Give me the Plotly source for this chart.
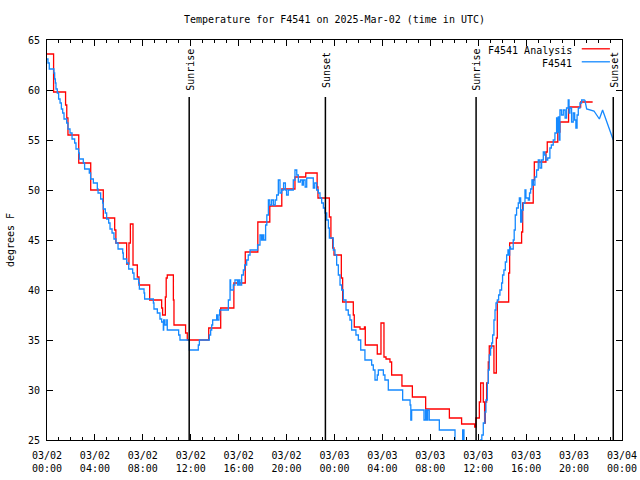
import plotly.graph_objects as go
import pandas as pd

# ---------------- data (hours after 2025-03-02 00:00 UTC, deg F) ----------------
red_hours = [0.0, 0.55, 1.55, 1.65, 1.75, 2.65, 3.65, 4.7, 5.65, 5.75, 6.65, 6.84, 6.96, 7.18,
             7.54, 7.68, 8.57, 9.57, 9.65, 9.88, 9.95, 10.04, 10.55, 10.6, 11.57, 11.71,
             13.5, 14.5, 15.6, 16.55, 17.6, 18.6, 19.6, 20.7, 21.6, 22.55, 22.62, 23.57,
             23.7, 23.85, 23.96, 24.57, 24.68, 25.57, 25.65, 26.13, 26.5, 26.57, 27.57,
             27.88, 28.13, 28.3, 28.63, 28.77, 29.63, 30.5, 31.61, 33.59, 34.61, 35.7,
             35.8, 36.09, 36.2, 36.42, 36.53, 36.59, 36.7, 36.84, 36.92, 37.31, 37.51,
             37.59, 38.54, 38.62, 39.62, 39.71, 40.59, 40.68, 41.65, 41.76, 42.64, 42.82,
             43.54, 44.55, 45.55]
red_temps = [63.6, 59.8, 58.5, 57.2, 55.5, 52.7, 50.0, 47.2, 46.0, 44.7, 42.6, 44.7, 46.6, 42.5,
             41.3, 40.5, 39.0, 38.2, 37.5, 39.3, 41.2, 41.5, 39.0, 36.5, 35.7, 35.0,
             36.2, 38.2, 40.7, 43.8, 46.8, 48.4, 50.1, 51.3, 51.7, 50.3, 49.2, 47.3,
             45.2, 44.2, 43.5, 41.2, 38.8, 37.5, 36.3, 36.1, 36.3, 34.5, 33.6,
             36.7, 33.3, 33.1, 32.8, 31.5, 30.4, 29.3, 28.1, 27.2, 26.6, 26.3,
             27.2, 28.8, 30.7, 28.8, 26.7, 28.8, 30.7, 32.8, 34.4, 31.7, 35.2,
             38.8, 41.7, 44.7, 45.8, 48.7, 51.0, 52.8, 53.8, 54.8, 55.8, 56.8,
             58.3, 58.8, 58.8]

blue_hours = [0.0, 0.08, 0.19, 0.58, 0.64, 0.70, 0.75, 0.86, 0.97, 1.09, 1.20, 1.31, 1.42, 1.64,
              1.75, 1.92, 2.09, 2.31, 2.42, 2.64, 2.70, 3.03, 3.14, 3.53, 3.64, 3.87, 4.20,
              4.26, 4.48, 4.65, 4.70, 4.87, 4.98, 5.15, 5.26, 5.43, 5.59, 5.76, 5.93, 6.32,
              6.37, 6.65, 6.82, 7.15, 7.26, 7.65, 7.71, 8.10, 8.15, 8.88, 8.93, 9.21, 9.43,
              9.57, 9.71, 9.74, 9.85, 10.0, 10.04, 10.99, 11.10, 11.88, 12.63, 12.72, 13.55,
              13.66, 13.75, 13.83, 14.16, 14.22, 14.35, 14.41, 15.14, 15.28, 15.33, 15.55,
              15.69, 15.9, 16.0, 16.11, 16.25, 16.39, 16.5, 16.67, 16.8, 16.95, 17.58, 17.78,
              17.9, 18.0, 18.1, 18.25, 18.35, 18.48, 18.6, 18.75, 18.9, 19.05, 19.17, 19.31,
              19.45, 19.59, 19.75, 19.9, 20.0, 20.14, 20.56, 20.70, 20.85, 20.98, 21.15, 21.3,
              21.40, 21.55, 21.68, 21.95, 22.23, 22.35, 22.51, 22.65, 22.79, 22.93, 23.07,
              23.21, 23.35, 23.49, 23.57, 23.9, 24.04, 24.18, 24.32, 24.46, 24.60, 24.74,
              24.96, 25.15, 25.29, 25.43, 25.79, 25.99, 26.19, 26.54, 27.10, 27.24, 27.38,
              27.57, 27.66, 28.08, 28.21, 28.49, 29.69, 30.31, 30.37, 30.44, 31.47, 31.6,
              31.7, 31.78, 31.91, 32.75, 34.06, 34.70, 34.81, 35.5, 36.2, 36.3, 36.42, 36.56,
              36.64, 36.76, 36.84, 36.92, 37.03, 37.12, 37.20, 37.31, 37.40, 37.48, 37.59,
              37.70, 37.81, 37.95, 38.03, 38.14, 38.26, 38.37, 38.48, 38.55, 38.62, 38.70,
              38.92, 39.0, 39.09, 39.20, 39.34, 39.43, 39.54, 39.65, 39.76, 39.90, 39.98,
              40.18, 40.28, 40.37, 40.48, 40.59, 40.73, 40.87, 41.01, 41.15, 41.29, 41.43,
              41.55, 41.65, 41.8, 41.98, 42.1, 42.26, 42.40, 42.54, 42.6, 42.68, 42.75, 42.82,
              42.95, 43.10, 43.25, 43.37, 43.51, 43.58, 43.65, 43.79, 43.93, 44.05, 44.15,
              44.25, 44.35, 44.49, 44.63, 44.9]
blue_temps = [63.1, 62.7, 62.1, 61.7, 61.1, 60.7, 60.1, 59.7, 59.1, 58.7, 58.1, 57.7, 57.1, 56.7,
              56.1, 55.7, 55.1, 54.7, 54.1, 53.7, 53.1, 52.7, 52.1, 51.7, 51.1, 50.7, 50.1,
              49.7, 49.1, 48.7, 48.1, 47.7, 47.1, 46.7, 46.1, 45.7, 45.1, 44.7, 44.1, 43.7,
              43.1, 42.7, 42.1, 41.7, 41.1, 40.7, 40.1, 39.7, 39.1, 38.7, 38.1, 37.7, 37.1,
              36.8, 36.0, 37.0, 36.5, 37.0, 36.0, 35.5, 35.0, 34.0, 34.5, 35.0, 35.5,
              36.0, 36.5, 37.0, 37.5, 37.0, 37.5, 38.0, 39.0, 41.0, 40.0, 40.5,
              41.0, 40.5, 41.0, 40.5, 41.5, 42.0, 42.5, 43.0, 43.5, 44.0, 44.5, 45.5,
              45.0, 45.5, 45.0, 46.5, 47.5, 49.0, 48.5, 49.0, 48.5, 49.0, 49.5, 51.0,
              49.7, 50.0, 50.7, 50.0, 49.5, 50.0, 51.0, 52.0, 51.5, 50.8, 51.0, 50.5,
              51.0, 50.3, 51.2, 51.2, 50.2, 50.7, 50.0, 49.7, 49.2, 48.7, 48.2,
              47.7, 47.0, 46.2, 45.2, 44.0, 43.5, 42.5, 41.5, 40.5, 40.0, 39.0,
              38.0, 37.5, 37.0, 36.0, 35.5, 35.0, 34.0, 33.0, 32.5, 32.0, 31.0,
              31.5, 32.0, 31.5, 31.0, 30.0, 29.0, 28.5, 27.0, 28.0, 27.0, 28.0,
              27.0, 28.0, 27.0, 26.0, 24.5, 26.0, 24.5, 24.0, 25.0, 25.5, 26.7, 27.8,
              29.0, 30.7, 32.0, 33.5, 34.2, 34.7, 35.5, 37.0, 38.0, 38.7, 39.0,
              39.5, 40.0, 40.7, 41.5, 42.0, 42.8, 43.5, 44.0, 43.5, 44.3, 44.1,
              45.0, 46.0, 47.5, 48.2, 48.7, 49.2, 46.8, 48.0, 48.7, 50.0, 49.2,
              49.0, 49.7, 50.1, 51.0, 50.5, 51.3, 52.0, 53.0, 52.2, 53.0, 53.8,
              53.5, 53.0, 53.2, 54.2, 54.5, 55.0, 55.7, 57.2, 55.8, 57.3, 55.0, 58.0,
              57.5, 58.0, 57.2, 58.2, 59.0, 57.7, 58.2, 56.8, 57.7, 57.0, 56.2,
              57.5, 58.2, 58.7, 59.0, 59.0]
# sparse hourly observations at the end (drawn joined, not stepped)
blue_tail_hours = [44.9, 45.05, 45.66, 46.11, 46.38, 47.27]
blue_tail_temps = [59.0, 58.1, 57.9, 57.1, 58.0, 55.0]

sun_hours = [11.87, 23.24, 35.82, 47.27]
sun_labels = ["Sunrise", "Sunset", "Sunrise", "Sunset"]

x_tick_hours = list(range(0, 49, 4))

# ---------------------------------------------------------------------------------
start = pd.Timestamp("2025-03-02 00:00")


def to_time(hours):
    return [start + pd.Timedelta(hours=h) for h in hours]


FONT = "DejaVu Sans Mono"
RED = "#ff0000"
BLUE = "#1589ff"

fig = go.Figure()
fig.add_trace(go.Scatter(x=to_time(red_hours), y=red_temps, mode="lines",
                         line=dict(color=RED, width=1.3, shape="hv"),
                         name="F4541 Analysis", showlegend=False, hoverinfo="skip"))
fig.add_trace(go.Scatter(x=to_time(blue_hours), y=blue_temps, mode="lines",
                         line=dict(color=BLUE, width=1.3, shape="hv"),
                         name="F4541", showlegend=False, hoverinfo="skip"))
fig.add_trace(go.Scatter(x=to_time(blue_tail_hours), y=blue_tail_temps, mode="lines",
                         line=dict(color=BLUE, width=1.3),
                         name="F4541", showlegend=False, hoverinfo="skip"))

# sunrise / sunset markers
for h, lab in zip(sun_hours, sun_labels):
    t = start + pd.Timedelta(hours=h)
    fig.add_shape(type="line", xref="x", yref="paper", x0=t, x1=t, y0=0, y1=0.8575,
                  line=dict(color="black", width=1.5))
    fig.add_annotation(x=t, xref="x", y=0.926, yref="paper", text=lab, textangle=-90,
                       showarrow=False, xanchor="center", yanchor="middle", xshift=1,
                       font=dict(family=FONT, size=10, color="black"))

# manual legend (text left of sample line, gnuplot style)
legend_rows = [("F4541 Analysis", RED, 0.975), ("F4541", BLUE, 0.9425)]
for txt, col, yy in legend_rows:
    fig.add_annotation(x=0.9165, xref="paper", y=yy, yref="paper", text=txt,
                       showarrow=False, xanchor="right", yanchor="middle",
                       font=dict(family=FONT, size=10, color="black"))
    fig.add_shape(type="line", xref="paper", yref="paper", x0=0.930, x1=0.979,
                  y0=yy + 0.003, y1=yy + 0.003, line=dict(color=col, width=1.3))

fig.update_layout(
    width=640, height=480,
    margin=dict(l=47, r=18, t=40, b=40, autoexpand=False),
    paper_bgcolor="white", plot_bgcolor="white",
    font=dict(family=FONT, size=10, color="black"),
    title=dict(text="Temperature for F4541 on 2025-Mar-02 (time in UTC)",
               x=0.5, xref="paper", xanchor="center",
               y=1 - 19 / 480, yref="container", yanchor="middle", automargin=False,
               font=dict(family=FONT, size=10, color="black")),
    showlegend=False,
)
fig.update_xaxes(
    range=[start, start + pd.Timedelta(hours=48)], automargin=False,
    tickvals=to_time(x_tick_hours), tickformat="%m/%d<br>%H:%M",
    ticks="inside", ticklen=6, tickcolor="black", tickwidth=1,
    minor=dict(dtick=3600000, ticks="inside", ticklen=3, tickcolor="black", tickwidth=1),
    showline=True, linecolor="black", linewidth=1, mirror="ticks",
    showgrid=False, zeroline=False, ticklabelstandoff=6,
    tickfont=dict(family=FONT, size=10, color="black"),
)
fig.update_yaxes(
    range=[25, 65], dtick=5, tick0=25, automargin=False,
    ticks="inside", ticklen=6, tickcolor="black", tickwidth=1,
    showline=True, linecolor="black", linewidth=1, mirror="ticks",
    showgrid=False, zeroline=False, ticklabelstandoff=4,
    title=dict(text="degrees F", standoff=11, font=dict(family=FONT, size=10, color="black")),
    tickfont=dict(family=FONT, size=10, color="black"),
)

fig.write_html("out.html", config={"displayModeBar": False, "staticPlot": True},
               post_script="document.body.style.margin='0px';document.body.style.padding='0px';")
